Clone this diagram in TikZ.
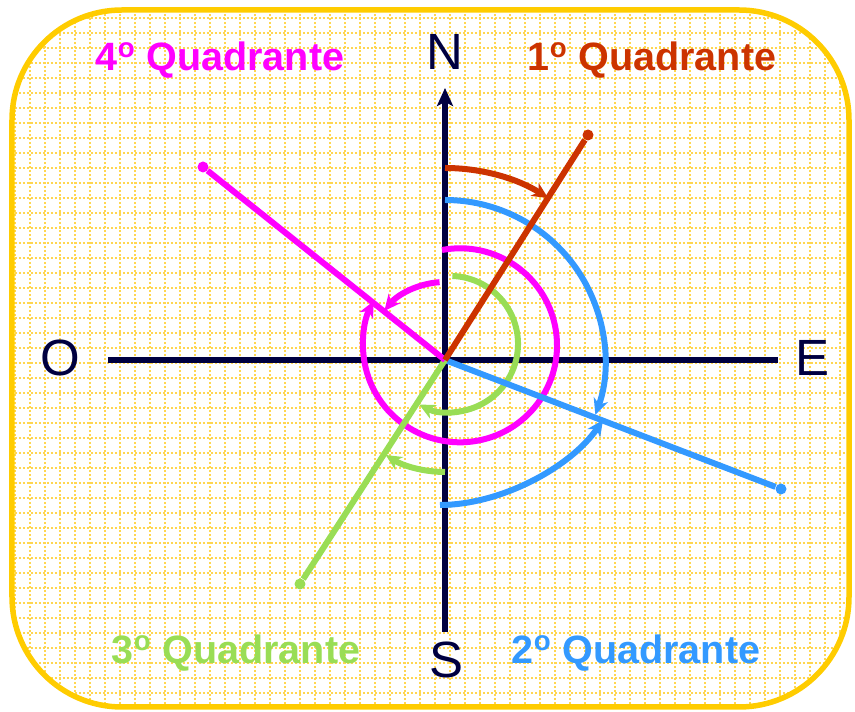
\documentclass[tikz,border=0pt]{standalone}
\usepackage{fontspec}
\setmainfont{Liberation Sans}
\usepackage{tikz}
\usetikzlibrary{
    arrows.meta
}
\definecolor{compnavy}{RGB}{0,0,64}
\definecolor{compgold}{RGB}{255,204,0}
\definecolor{compgrid}{RGB}{255,214,80}
\definecolor{quadred}{RGB}{204,51,0}
\definecolor{quadblue}{RGB}{51,153,255}
\definecolor{quadgreen}{RGB}{153,221,85}
\definecolor{quadpink}{RGB}{255,0,255}

\begin{document}
\begin{tikzpicture}[
        x=0.02cm, y=0.02cm,
        frame/.style={
            draw=compgold,
            line width=0.11cm,
            rounded corners=2.2cm
        },
        gridline/.style={
            draw=compgrid,
            line width=0.035cm,
            dash pattern=on 0.035cm off 0.045cm
        },
        axis/.style={
            draw=compnavy,
            line width=0.13cm
        },
        ray/.style={
            line width=0.12cm
        },
        turn/.style={
            line width=0.12cm,
            -{Stealth[length=0.32cm, width=0.3cm, inset=0.1cm]}
        },
        tip/.style={
            circle,
            inner sep=0pt,
            minimum size=0.22cm
        },
        cardinal/.style={
            text=compnavy,
            font=\fontsize{29}{32}\selectfont
        },
        quadlabel/.style={
            font=\fontsize{22.5}{26}\selectfont\bfseries
        }
    ]

    \useasboundingbox (-445,-352) rectangle (410,360);

    \begin{scope}
        \clip[rounded corners=2.2cm] (-433,-347) rectangle (404,350);
        \foreach \gx in {-430,-415,...,400}
            \draw[gridline] (\gx,-360) -- (\gx,370);
        \foreach \gy in {-348,-333,...,357}
            \draw[gridline] (-450,\gy) -- (420,\gy);
    \end{scope}
    \draw[frame] (-433,-347) rectangle (404,350);

    \coordinate (centre) at (0,0);
    \coordinate (north) at (0,272);
    \coordinate (south) at (0,-272);
    \coordinate (west) at (-337,0);
    \coordinate (east) at (333,0);

    \draw[axis] (west) -- (east);
    \draw[axis, -{Stealth[length=0.36cm, width=0.32cm, inset=0.08cm]}] (south) -- (north);

    \node[cardinal] (nlabel) at (0,308) {N};
    \node[cardinal] (slabel) at (1,-300) {S};
    \node[cardinal] (olabel) at (-385,2) {O};
    \node[cardinal] (elabel) at (367,2) {E};

    \node[quadlabel, text=quadpink] (quadfour) at (-225,300) {4\textsuperscript{o} Quadrante};
    \node[quadlabel, text=quadred] (quadone) at (207,300) {1\textsuperscript{o} Quadrante};
    \node[quadlabel, text=quadgreen] (quadthree) at (-209,-293) {3\textsuperscript{o} Quadrante};
    \node[quadlabel, text=quadblue] (quadtwo) at (191,-293) {2\textsuperscript{o} Quadrante};

    \node[tip, fill=quadred] (redend) at (143,225) {};
    \node[tip, fill=quadblue] (blueend) at (336,-129) {};
    \node[tip, fill=quadgreen] (greenend) at (-145,-224) {};
    \node[tip, fill=quadpink] (pinkend) at (-242,193) {};

    \coordinate (redstart) at (0,192);
    \coordinate (bluestart) at (0,160);
    \coordinate (bluelow) at (-5,-145);
    \coordinate (bluehit) at (158,-60);
    \coordinate (pinkstart) at (-3,110);
    \coordinate (pinkinner) at (94:78);
    \coordinate (greenstart) at (7.4,84);
    \coordinate (greenlow) at (0,-112);

    \draw[turn, quadpink] (pinkstart) arc[start angle=100.7, end angle=-207, radius=97];
    \draw[turn, quadpink] (pinkinner) arc[start angle=94, end angle=141, radius=78];
    \draw[turn, quadgreen] (greenstart) arc[start angle=88, end angle=-117, radius=68];
    \draw[turn, quadgreen] (greenlow) arc[start angle=-90, end angle=-122, radius=112];
    \draw[turn, quadblue] (bluestart) arc[start angle=90, end angle=-20, radius=160];
    \draw[turn, quadblue] (bluelow) .. controls (55,-145) and (125,-108) .. (bluehit);
    \draw[turn, quadred] (redstart) arc[start angle=90, end angle=57.5, radius=192];

    \draw[ray, quadblue] (centre) -- (blueend);
    \draw[ray, quadgreen] (centre) -- (greenend);
    \draw[ray, quadpink] (centre) -- (pinkend);
    \draw[ray, quadred] (centre) -- (redend);

\end{tikzpicture}
\end{document}
